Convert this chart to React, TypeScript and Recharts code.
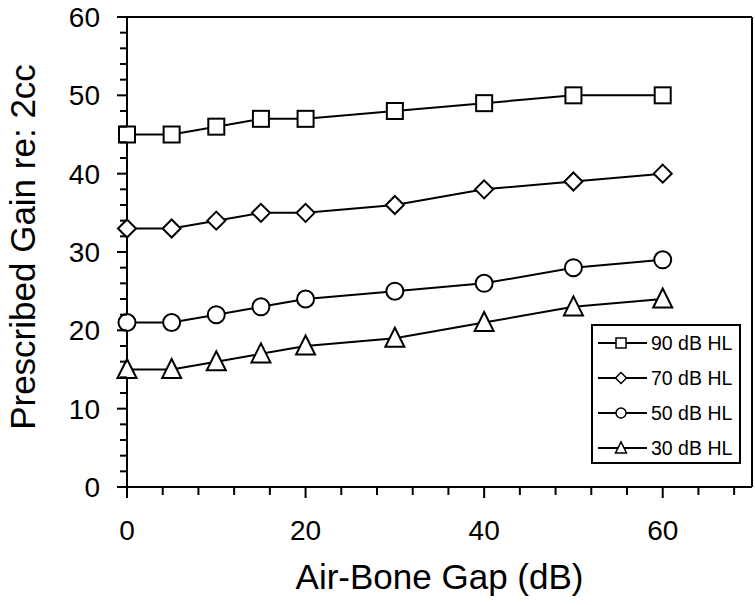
import React from 'react';
import { LineChart, Line, XAxis, YAxis, ReferenceLine, Legend } from 'recharts';

const gaps = [0, 5, 10, 15, 20, 30, 40, 50, 60];
const hl90 = [45, 45, 46, 47, 47, 48, 49, 50, 50];
const hl70 = [33, 33, 34, 35, 35, 36, 38, 39, 40];
const hl50 = [21, 21, 22, 23, 24, 25, 26, 28, 29];
const hl30 = [15, 15, 16, 17, 18, 19, 21, 23, 24];

const xTicks = [0, 4, 8, 12, 16, 20, 24, 28, 32, 36, 40, 44, 48, 52, 56, 60, 64, 68];
const xLabels = [0, 20, 40, 60];
const yTicks = [0, 2, 4, 6, 8, 10, 12, 14, 16, 18, 20, 22, 24, 26, 28, 30, 32, 34, 36, 38, 40, 42, 44, 46, 48, 50, 52, 54, 56, 58, 60];
const yLabels = [0, 10, 20, 30, 40, 50, 60];

const series = [
  { key: 'hl90', name: '90 dB HL', shape: 'square' },
  { key: 'hl70', name: '70 dB HL', shape: 'diamond' },
  { key: 'hl50', name: '50 dB HL', shape: 'circle' },
  { key: 'hl30', name: '30 dB HL', shape: 'triangle' },
];

const data = gaps.map((g, i) => ({ gap: g, hl90: hl90[i], hl70: hl70[i], hl50: hl50[i], hl30: hl30[i] }));

const FONT = 'Arial, "Liberation Sans", Helvetica, sans-serif';

// open marker, s = full size in px
const Marker = ({ shape, cx, cy, s, sw = 2 }: { shape: string; cx: number; cy: number; s: number; sw?: number }) => {
  const h = s / 2;
  const common = { fill: '#fff', stroke: '#000', strokeWidth: sw };
  if (shape === 'square') return <rect x={cx - h} y={cy - h} width={s} height={s} {...common} />;
  if (shape === 'diamond')
    return <polygon points={`${cx},${cy - h} ${cx + h},${cy} ${cx},${cy + h} ${cx - h},${cy}`} {...common} />;
  if (shape === 'circle') return <circle cx={cx} cy={cy} r={h} {...common} />;
  return (
    <polygon points={`${cx},${cy - s * 0.55} ${cx + h},${cy + s * 0.45} ${cx - h},${cy + s * 0.45}`} {...common} />
  );
};

const dotSize: Record<string, number> = { square: 16, diamond: 18, circle: 17, triangle: 19 };
const legendSize: Record<string, number> = { square: 10, diamond: 11, circle: 10, triangle: 11 };

const XTick = (props: any) => {
  const { x, y, payload } = props;
  const major = xLabels.includes(payload.value);
  return (
    <g>
      <line x1={x} x2={x} y1={y} y2={y + (major ? 11 : 8)} stroke="#000" strokeWidth={2} />
      {major && (
        <text x={x} y={y + 53} textAnchor="middle" fontSize={28} fontFamily={FONT} fill="#000">
          {payload.value}
        </text>
      )}
    </g>
  );
};

const YTick = (props: any) => {
  const { x, y, payload } = props;
  const major = yLabels.includes(payload.value);
  return (
    <g>
      <line x1={x} x2={x - (major ? 10 : 7)} y1={y} y2={y} stroke="#000" strokeWidth={2} />
      {major && (
        <text x={x - 27} y={y + 10} textAnchor="end" fontSize={28} fontFamily={FONT} fill="#000">
          {payload.value}
        </text>
      )}
    </g>
  );
};

const LegendBox = () => (
  <div style={{ width: 150, height: 140, border: '2px solid #000', background: '#fff', boxSizing: 'border-box' }}>
    <svg width={146} height={136} style={{ display: 'block' }}>
      {series.map((s, i) => {
        const cy = 17 + i * 35;
        return (
          <g key={s.key}>
            <line x1={5} x2={54} y1={cy} y2={cy} stroke="#000" strokeWidth={2} />
            <Marker shape={s.shape} cx={28} cy={cy} s={legendSize[s.shape]} sw={1.5} />
            <text x={58} y={cy + 7} fontSize={19.5} fontFamily={FONT} fill="#000">
              {s.name}
            </text>
          </g>
        );
      })}
    </svg>
  </div>
);

export default function App() {
  return (
    <div style={{ position: 'absolute', left: 0, top: 0, background: '#fff' }}>
      <LineChart width={755} height={605} data={data} margin={{ top: 17, right: 3, bottom: 0, left: 0 }}>
        <XAxis
          type="number"
          dataKey="gap"
          domain={[0, 70]}
          ticks={xTicks}
          interval={0}
          height={118}
          tickSize={0}
          tickMargin={0}
          tickLine={false}
          axisLine={{ stroke: '#000', strokeWidth: 2 }}
          tick={<XTick />}
          label={{
            content: (p: any) => {
              const vb = p.viewBox || { x: 127, y: 487, width: 625 };
              return (
                <text x={vb.x + vb.width / 2} y={vb.y + 102} textAnchor="middle" fontSize={35} fontFamily={FONT} fill="#000">
                  Air-Bone Gap (dB)
                </text>
              );
            },
          }}
        />
        <YAxis
          type="number"
          domain={[0, 60]}
          ticks={yTicks}
          interval={0}
          width={127}
          tickSize={0}
          tickMargin={0}
          tickLine={false}
          axisLine={{ stroke: '#000', strokeWidth: 2 }}
          tick={<YTick />}
          label={{
            content: (p: any) => {
              const vb = p.viewBox || { x: 0, y: 17, width: 127, height: 470 };
              const cx = vb.x + 35;
              const cy = vb.y + vb.height / 2 - 5;
              return (
                <text
                  x={cx}
                  y={cy}
                  transform={`rotate(-90 ${cx} ${cy})`}
                  textAnchor="middle"
                  fontSize={35}
                  fontFamily={FONT}
                  fill="#000"
                >
                  Prescribed Gain re: 2cc
                </text>
              );
            },
          }}
        />
        <ReferenceLine y={60} stroke="#000" strokeWidth={2} />
        <ReferenceLine x={70} stroke="#000" strokeWidth={2} />
        {series.map((s) => (
          <Line
            key={s.key}
            type="linear"
            dataKey={s.key}
            name={s.name}
            stroke="#000"
            strokeWidth={2}
            isAnimationActive={false}
            dot={(p: any) => <Marker key={`${s.key}-${p.index}`} shape={s.shape} cx={p.cx} cy={p.cy} s={dotSize[s.shape]} />}
            activeDot={false}
          />
        ))}
        <Legend
          layout="horizontal"
          verticalAlign="middle"
          align="center"
          wrapperStyle={{ left: 591, top: 324, width: 150, height: 140 }}
          content={() => <LegendBox />}
        />
      </LineChart>
    </div>
  );
}
